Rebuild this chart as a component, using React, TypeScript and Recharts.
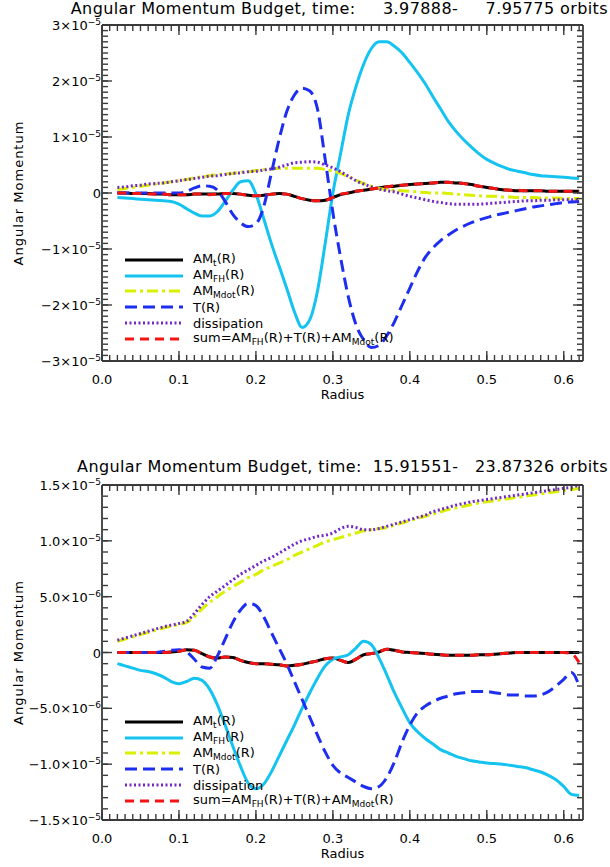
import { LineChart, Line, XAxis, YAxis, Legend } from "recharts";

// radius grid shared by both panels
const radius = [
  0.02, 0.03, 0.04, 0.05, 0.06, 0.07, 0.08, 0.09, 0.1, 0.11,
  0.12, 0.13, 0.14, 0.15, 0.16, 0.17, 0.18, 0.19, 0.2, 0.21,
  0.22, 0.23, 0.24, 0.25, 0.26, 0.27, 0.28, 0.29, 0.3, 0.31,
  0.32, 0.33, 0.34, 0.35, 0.36, 0.37, 0.38, 0.39, 0.4, 0.41,
  0.42, 0.43, 0.44, 0.45, 0.46, 0.47, 0.48, 0.49, 0.5, 0.51,
  0.52, 0.53, 0.54, 0.55, 0.56, 0.57, 0.58, 0.59, 0.6, 0.61,
  0.62,
];

// top panel, values in units of 1e-5
const TOP_UNIT = 1e-5;
const topAmT = [
  0.0, 0.0, -0.01, -0.01, -0.01, -0.02, -0.02, -0.03, -0.03, -0.03,
  -0.02, -0.02, -0.02, -0.02, -0.01, -0.01, -0.02, -0.04, -0.05, -0.04,
  -0.02, -0.01, -0.02, -0.06, -0.1, -0.13, -0.14, -0.13, -0.08, -0.03,
  0.0, 0.03, 0.05, 0.07, 0.09, 0.11, 0.12, 0.14, 0.15, 0.16,
  0.17, 0.18, 0.19, 0.19, 0.18, 0.17, 0.15, 0.12, 0.1, 0.08,
  0.06, 0.05, 0.04, 0.04, 0.04, 0.04, 0.03, 0.03, 0.03, 0.03,
  0.03,
];
const topAmFH = [
  -0.08, -0.09, -0.1, -0.11, -0.12, -0.13, -0.14, -0.15, -0.2, -0.28,
  -0.36, -0.41, -0.41, -0.33, -0.15, 0.05, 0.2, 0.22, -0.02, -0.45,
  -0.9, -1.3, -1.7, -2.12, -2.4, -2.26, -1.75, -0.9, 0.0, 0.7,
  1.4, 1.9, 2.3, 2.58, 2.7, 2.7, 2.62, 2.5, 2.33, 2.15,
  1.95, 1.72, 1.5, 1.28, 1.1, 0.95, 0.82, 0.7, 0.6, 0.53,
  0.47, 0.42, 0.39, 0.36, 0.33, 0.31, 0.3, 0.29, 0.28, 0.27,
  0.26,
];
const topAmMdot = [
  0.06, 0.08, 0.1, 0.12, 0.14, 0.16, 0.18, 0.2, 0.22, 0.24,
  0.27, 0.29, 0.31, 0.33, 0.34, 0.35, 0.37, 0.38, 0.4, 0.42,
  0.43, 0.44, 0.44, 0.44, 0.44, 0.44, 0.44, 0.42, 0.39, 0.35,
  0.29, 0.23, 0.17, 0.12, 0.08, 0.06, 0.05, 0.04, 0.03, 0.02,
  0.01, 0.0, 0.0, -0.01, -0.02, -0.03, -0.04, -0.05, -0.06, -0.06,
  -0.07, -0.07, -0.08, -0.08, -0.08, -0.09, -0.09, -0.09, -0.1, -0.1,
  -0.1,
];
const topTorque = [
  0.0, 0.0, 0.0, 0.0, 0.0, 0.0, 0.0, 0.0, 0.0, 0.03,
  0.09, 0.13, 0.12, 0.05, -0.15, -0.38, -0.53, -0.6, -0.55, -0.25,
  0.35, 0.95, 1.45, 1.75, 1.87, 1.82, 1.5, 0.6, -0.35, -1.15,
  -1.85, -2.35, -2.62, -2.76, -2.72, -2.55, -2.3, -2.0, -1.7, -1.4,
  -1.15, -0.98, -0.85, -0.75, -0.66, -0.59, -0.53, -0.48, -0.44, -0.4,
  -0.37, -0.34, -0.31, -0.28, -0.25, -0.23, -0.21, -0.19, -0.17, -0.16,
  -0.15,
];
const topDiss = [
  0.1, 0.11, 0.13, 0.14, 0.16, 0.17, 0.18, 0.2, 0.22, 0.24,
  0.26, 0.28, 0.3, 0.31, 0.33, 0.35, 0.36, 0.38, 0.39, 0.41,
  0.43, 0.46, 0.5, 0.54, 0.55, 0.56, 0.55, 0.5, 0.45, 0.38,
  0.3, 0.22, 0.16, 0.11, 0.07, 0.04, 0.02, -0.02, -0.06, -0.09,
  -0.12, -0.15, -0.17, -0.19, -0.2, -0.2, -0.2, -0.2, -0.19, -0.18,
  -0.17, -0.16, -0.15, -0.14, -0.14, -0.13, -0.13, -0.12, -0.12, -0.12,
  -0.12,
];
const topSum = [
  0.0, 0.0, -0.01, -0.01, -0.02, -0.02, -0.02, -0.03, -0.03, -0.03,
  -0.02, -0.02, -0.03, -0.02, -0.01, -0.01, -0.02, -0.04, -0.05, -0.04,
  -0.02, -0.01, -0.02, -0.06, -0.1, -0.13, -0.14, -0.13, -0.08, -0.02,
  0.0, 0.03, 0.05, 0.07, 0.09, 0.11, 0.13, 0.14, 0.15, 0.16,
  0.17, 0.18, 0.19, 0.19, 0.18, 0.17, 0.15, 0.12, 0.1, 0.08,
  0.06, 0.05, 0.05, 0.04, 0.04, 0.04, 0.03, 0.03, 0.03, 0.03,
  0.03,
];

// bottom panel, values in units of 1e-6
const BOTTOM_UNIT = 1e-6;
const botAmT = [
  0, 0, 0, 0, 0, 0, 0, 0.05, 0.1, 0.25,
  0.2, -0.1, -0.4, -0.5, -0.4, -0.45, -0.7, -0.9, -1.0, -1.0,
  -1.05, -1.1, -1.2, -1.15, -1.05, -0.9, -0.75, -0.55, -0.5, -0.7,
  -0.9, -0.6, -0.2, -0.1, 0.05, 0.3, 0.2, 0.05, 0.0, -0.05,
  -0.1, -0.15, -0.2, -0.25, -0.25, -0.25, -0.25, -0.2, -0.2, -0.15,
  -0.1, -0.05, 0, 0, 0, 0, 0, 0, 0, 0,
  0,
];
const botAmFH = [
  -1.0, -1.2, -1.4, -1.6, -1.7, -1.9, -2.2, -2.6, -2.8, -2.6,
  -2.3, -2.5, -3.3, -4.7, -6.5, -8.4, -10.2, -11.7, -12.2, -11.8,
  -10.7, -9.3, -7.9, -6.5, -5.0, -3.6, -2.3, -1.2, -0.6, -0.4,
  -0.2, 0.4, 1.0, 0.7, -0.5, -2.0, -3.6, -5.0, -6.3, -7.1,
  -7.7, -8.2, -8.7, -9.0, -9.3, -9.5, -9.7, -9.8, -9.9, -9.95,
  -10.0, -10.1, -10.2, -10.3, -10.5, -10.7, -11.0, -11.4, -12.0, -12.7,
  -12.8,
];
const botAmMdot = [
  1.0, 1.2, 1.4, 1.6, 1.8, 2.0, 2.2, 2.35, 2.5, 2.7,
  3.2, 3.9, 4.5, 5.0, 5.5, 5.9, 6.3, 6.7, 7.0, 7.4,
  7.7, 8.0, 8.3, 8.7, 9.0, 9.3, 9.6, 9.9, 10.1, 10.3,
  10.5, 10.7, 10.9, 11.0, 11.1, 11.2, 11.4, 11.6, 11.8, 12.0,
  12.2, 12.4, 12.6, 12.8, 12.95, 13.1, 13.25, 13.4, 13.5, 13.6,
  13.7, 13.8, 13.9, 14.0, 14.1, 14.2, 14.3, 14.4, 14.5, 14.6,
  14.7,
];
const botTorque = [
  0, 0, 0, 0, 0, 0, 0.1, 0.2, 0.25, 0.05,
  -0.6, -1.3, -1.4, -0.3, 1.2, 2.7, 3.8, 4.4, 4.2, 3.2,
  1.8, 0.4, -1.0, -2.6, -4.2, -5.8, -7.4, -8.9, -10.1, -10.8,
  -11.2, -11.6, -12.0, -12.2, -12.0, -11.2, -9.8, -8.0, -6.5, -5.4,
  -4.8, -4.4, -4.1, -3.9, -3.7, -3.6, -3.5, -3.5, -3.5, -3.6,
  -3.7, -3.8, -3.8, -3.9, -3.9, -3.8, -3.5, -3.0, -2.4, -1.8,
  -3.0,
];
const botDiss = [
  1.1, 1.3, 1.5, 1.7, 1.9, 2.1, 2.3, 2.45, 2.6, 2.8,
  3.5, 4.3, 5.0, 5.5, 6.0, 6.5, 7.0, 7.4, 7.8, 8.2,
  8.5, 8.9, 9.3, 9.7, 10.0, 10.2, 10.4, 10.5, 10.7, 11.1,
  11.3, 11.2, 11.0, 11.0, 11.1, 11.3, 11.5, 11.7, 11.9, 12.1,
  12.3, 12.6, 12.8, 13.0, 13.2, 13.35, 13.5, 13.6, 13.7, 13.8,
  13.9, 14.0, 14.1, 14.2, 14.3, 14.4, 14.5, 14.6, 14.7, 14.8,
  15.0,
];
const botSum = [
  0, 0, 0, 0, 0, 0, 0, 0.05, 0.1, 0.25,
  0.2, -0.1, -0.4, -0.5, -0.4, -0.45, -0.7, -0.9, -1.0, -1.0,
  -1.05, -1.1, -1.2, -1.15, -1.05, -0.9, -0.75, -0.55, -0.5, -0.7,
  -0.9, -0.6, -0.2, -0.1, 0.05, 0.3, 0.2, 0.05, 0.0, -0.05,
  -0.1, -0.15, -0.2, -0.25, -0.25, -0.25, -0.25, -0.2, -0.2, -0.15,
  -0.1, -0.05, 0, 0, 0, 0, 0, 0, 0, -0.1,
  -0.9,
];

// axes
const xDomain = [0, 0.625];
const xTicks = [0, 0.1, 0.2, 0.3, 0.4, 0.5, 0.6];
const xTickLabels = ["0.0", "0.1", "0.2", "0.3", "0.4", "0.5", "0.6"];

const topYDomain = [-3e-5, 3e-5];
const topYTicks = [-3e-5, -2e-5, -1e-5, 0, 1e-5, 2e-5, 3e-5];
const topYTickBase = ["\u22123", "\u22122", "\u22121", "0", "1", "2", "3"];
const topYTickExp = ["\u22125", "\u22125", "\u22125", "", "\u22125", "\u22125", "\u22125"];

const botYDomain = [-1.5e-5, 1.5e-5];
const botYTicks = [-1.5e-5, -1e-5, -5e-6, 0, 5e-6, 1e-5, 1.5e-5];
const botYTickBase = ["\u22121.5", "\u22121.0", "\u22125.0", "0", "5.0", "1.0", "1.5"];
const botYTickExp = ["\u22125", "\u22125", "\u22126", "", "\u22126", "\u22125", "\u22125"];

const topTitle = "Angular Momentum Budget, time:     3.97888-     7.95775 orbits";
const botTitle = "Angular Momentum Budget, time:  15.91551-   23.87326 orbits";

const FONT = "'DejaVu Sans', sans-serif";
const AXIS_COLOR = "#3a3a3a";

const series = [
  { key: "amt", color: "#000000", dash: undefined, label: [["AM", false], ["t", true], ["(R)", false]] },
  { key: "fh", color: "#14c3f0", dash: undefined, label: [["AM", false], ["FH", true], ["(R)", false]] },
  { key: "mdot", color: "#d9f000", dash: "11 4 3 4", label: [["AM", false], ["Mdot", true], ["(R)", false]] },
  { key: "torque", color: "#1e2ef0", dash: "12 6", label: [["T(R)", false]] },
  { key: "diss", color: "#7328c4", dash: "2 2.5", label: [["dissipation", false]] },
  {
    key: "sum",
    color: "#f51414",
    dash: "9 6",
    label: [["sum=AM", false], ["FH", true], ["(R)+T(R)+AM", false], ["Mdot", true], ["(R)", false]],
  },
];

function buildRows(unit: number, cols: Record<string, number[]>) {
  return radius.map((r, i) => {
    const row: Record<string, number> = { r };
    Object.keys(cols).forEach((k) => {
      row[k] = cols[k][i] * unit;
    });
    return row;
  });
}

const topRows = buildRows(TOP_UNIT, {
  amt: topAmT, fh: topAmFH, mdot: topAmMdot, torque: topTorque, diss: topDiss, sum: topSum,
});
const botRows = buildRows(BOTTOM_UNIT, {
  amt: botAmT, fh: botAmFH, mdot: botAmMdot, torque: botTorque, diss: botDiss, sum: botSum,
});

// minor tick positions between the domain ends
function minorTicks(domain: number[], step: number) {
  const n = Math.floor((domain[1] - domain[0]) / step + 1e-6);
  const out: number[] = [];
  for (let k = 0; k <= n; k++) out.push(domain[0] + k * step);
  return out;
}

const noLabel = () => <g />;
const frameLine = { stroke: AXIS_COLOR, strokeWidth: 1.8 };
const tickStroke = { stroke: AXIS_COLOR, strokeWidth: 1.4 };

function renderXTick(props: any) {
  const { x, y, payload } = props;
  const i = xTicks.findIndex((t) => Math.abs(t - payload.value) < 1e-9);
  return (
    <text x={x} y={y + 23} textAnchor="middle" fontSize={13} fontFamily={FONT} fill="#000">
      {xTickLabels[i]}
    </text>
  );
}

function makeYTick(ticks: number[], base: string[], exp: string[]) {
  return (props: any) => {
    const { x, y, payload } = props;
    const i = ticks.findIndex((t) => Math.abs(t - payload.value) < 1e-12);
    if (i < 0) return <g />;
    return (
      <text x={x} y={y + 5} textAnchor="end" fontSize={13} fontFamily={FONT} fill="#000">
        {exp[i] ? `${base[i]}\u00d710` : base[i]}
        {exp[i] ? (
          <tspan dy={-5} fontSize={9}>
            {exp[i]}
          </tspan>
        ) : null}
      </text>
    );
  };
}

function LegendBox() {
  return (
    <div style={{ fontFamily: FONT, fontSize: 13, color: "#000" }}>
      {series.map((s) => (
        <div key={s.key} style={{ display: "flex", alignItems: "center", height: 15.8 }}>
          <svg width={58} height={6} style={{ display: "block" }}>
            <line x1={0} x2={58} y1={3} y2={3} stroke={s.color} strokeWidth={3} strokeDasharray={s.dash} />
          </svg>
          <span style={{ marginLeft: 10, whiteSpace: "nowrap", lineHeight: "15px" }}>
            {s.label.map(([t, sub], j) =>
              sub ? (
                <span key={j} style={{ fontSize: 9, position: "relative", top: 3 }}>
                  {t as string}
                </span>
              ) : (
                <span key={j}>{t as string}</span>
              )
            )}
          </span>
        </div>
      ))}
    </div>
  );
}

type PanelProps = {
  rows: Record<string, number>[];
  title: string;
  titleTop: number;
  height: number;
  plotTop: number;
  marginBottom: number;
  xAxisHeight: number;
  yDomain: number[];
  yTicks: number[];
  yBase: string[];
  yExp: string[];
  yMinorStep: number;
  legendTop: number;
};

function Panel(p: PanelProps) {
  const xMinor = minorTicks(xDomain, 0.01);
  const yMinor = minorTicks(p.yDomain, p.yMinorStep);
  return (
    <div style={{ position: "relative", width: 610, height: p.height }}>
      <div
        style={{
          position: "absolute",
          right: 2,
          top: p.titleTop,
          fontFamily: FONT,
          fontSize: 16,
          lineHeight: "16px",
          letterSpacing: 0.4,
          whiteSpace: "pre",
          zIndex: 2,
        }}
      >
        {p.title}
      </div>
      <LineChart
        width={610}
        height={p.height}
        data={p.rows}
        margin={{ top: p.plotTop, right: 27, bottom: p.marginBottom, left: 0 }}
      >
        <XAxis
          xAxisId="x"
          dataKey="r"
          type="number"
          domain={xDomain}
          allowDataOverflow
          ticks={xTicks}
          interval={0}
          tickLine={false}
          axisLine={false}
          tickSize={0}
          tickMargin={0}
          tick={renderXTick}
          height={p.xAxisHeight}
          label={{ value: "Radius", position: "insideTop", offset: 29, fontSize: 13, fontFamily: FONT, fill: "#000" }}
        />
        <XAxis xAxisId="xbM" dataKey="r" type="number" domain={xDomain} allowDataOverflow ticks={xTicks} interval={0}
          mirror height={1} tickSize={10} tick={noLabel} axisLine={frameLine} tickLine={tickStroke} />
        <XAxis xAxisId="xbm" dataKey="r" type="number" domain={xDomain} allowDataOverflow ticks={xMinor} interval={0}
          mirror height={1} tickSize={5} tick={noLabel} axisLine={false} tickLine={tickStroke} />
        <XAxis xAxisId="xtM" dataKey="r" orientation="top" type="number" domain={xDomain} allowDataOverflow ticks={xTicks}
          interval={0} mirror height={1} tickSize={10} tick={noLabel} axisLine={frameLine} tickLine={tickStroke} />
        <XAxis xAxisId="xtm" dataKey="r" orientation="top" type="number" domain={xDomain} allowDataOverflow ticks={xMinor}
          interval={0} mirror height={1} tickSize={5} tick={noLabel} axisLine={false} tickLine={tickStroke} />

        <YAxis
          yAxisId="y"
          type="number"
          domain={p.yDomain}
          allowDataOverflow
          ticks={p.yTicks}
          interval={0}
          width={102}
          tickLine={false}
          axisLine={false}
          tickSize={0}
          tickMargin={1}
          tick={makeYTick(p.yTicks, p.yBase, p.yExp)}
          label={{
            value: "Angular Momentum",
            angle: -90,
            position: "insideLeft",
            offset: 18,
            fontSize: 13,
            fontFamily: FONT,
            fill: "#000",
            style: { textAnchor: "middle", letterSpacing: 1 },
          }}
        />
        <YAxis yAxisId="ylM" type="number" domain={p.yDomain} allowDataOverflow ticks={p.yTicks} interval={0}
          mirror width={1} tickSize={10} tick={noLabel} axisLine={frameLine} tickLine={tickStroke} />
        <YAxis yAxisId="ylm" type="number" domain={p.yDomain} allowDataOverflow ticks={yMinor} interval={0}
          mirror width={1} tickSize={5} tick={noLabel} axisLine={false} tickLine={tickStroke} />
        <YAxis yAxisId="yrM" orientation="right" type="number" domain={p.yDomain} allowDataOverflow ticks={p.yTicks}
          interval={0} mirror width={1} tickSize={10} tick={noLabel} axisLine={frameLine} tickLine={tickStroke} />
        <YAxis yAxisId="yrm" orientation="right" type="number" domain={p.yDomain} allowDataOverflow ticks={yMinor}
          interval={0} mirror width={1} tickSize={5} tick={noLabel} axisLine={false} tickLine={tickStroke} />

        {series.map((s) => (
          <Line
            key={s.key}
            xAxisId="x"
            yAxisId="y"
            type="monotone"
            dataKey={s.key}
            stroke={s.color}
            strokeWidth={3}
            strokeDasharray={s.dash}
            dot={false}
            activeDot={false}
            isAnimationActive={false}
          />
        ))}
        <Legend
          layout="vertical"
          align="center"
          verticalAlign="middle"
          wrapperStyle={{ left: 125, top: p.legendTop, width: 320 }}
          content={() => <LegendBox />}
        />
      </LineChart>
    </div>
  );
}

export default function App() {
  return (
    <div style={{ position: "absolute", left: 0, top: 0, width: 610, height: 867, background: "#fff" }}>
      <Panel
        rows={topRows}
        title={topTitle}
        titleTop={1}
        height={433}
        plotTop={25}
        marginBottom={22}
        xAxisHeight={50}
        yDomain={topYDomain}
        yTicks={topYTicks}
        yBase={topYTickBase}
        yExp={topYTickExp}
        yMinorStep={1e-6}
        legendTop={252}
      />
      <Panel
        rows={botRows}
        title={botTitle}
        titleTop={26}
        height={434}
        plotTop={52}
        marginBottom={0}
        xAxisHeight={47}
        yDomain={botYDomain}
        yTicks={botYTicks}
        yBase={botYTickBase}
        yExp={botYTickExp}
        yMinorStep={1e-6}
        legendTop={281}
      />
    </div>
  );
}
